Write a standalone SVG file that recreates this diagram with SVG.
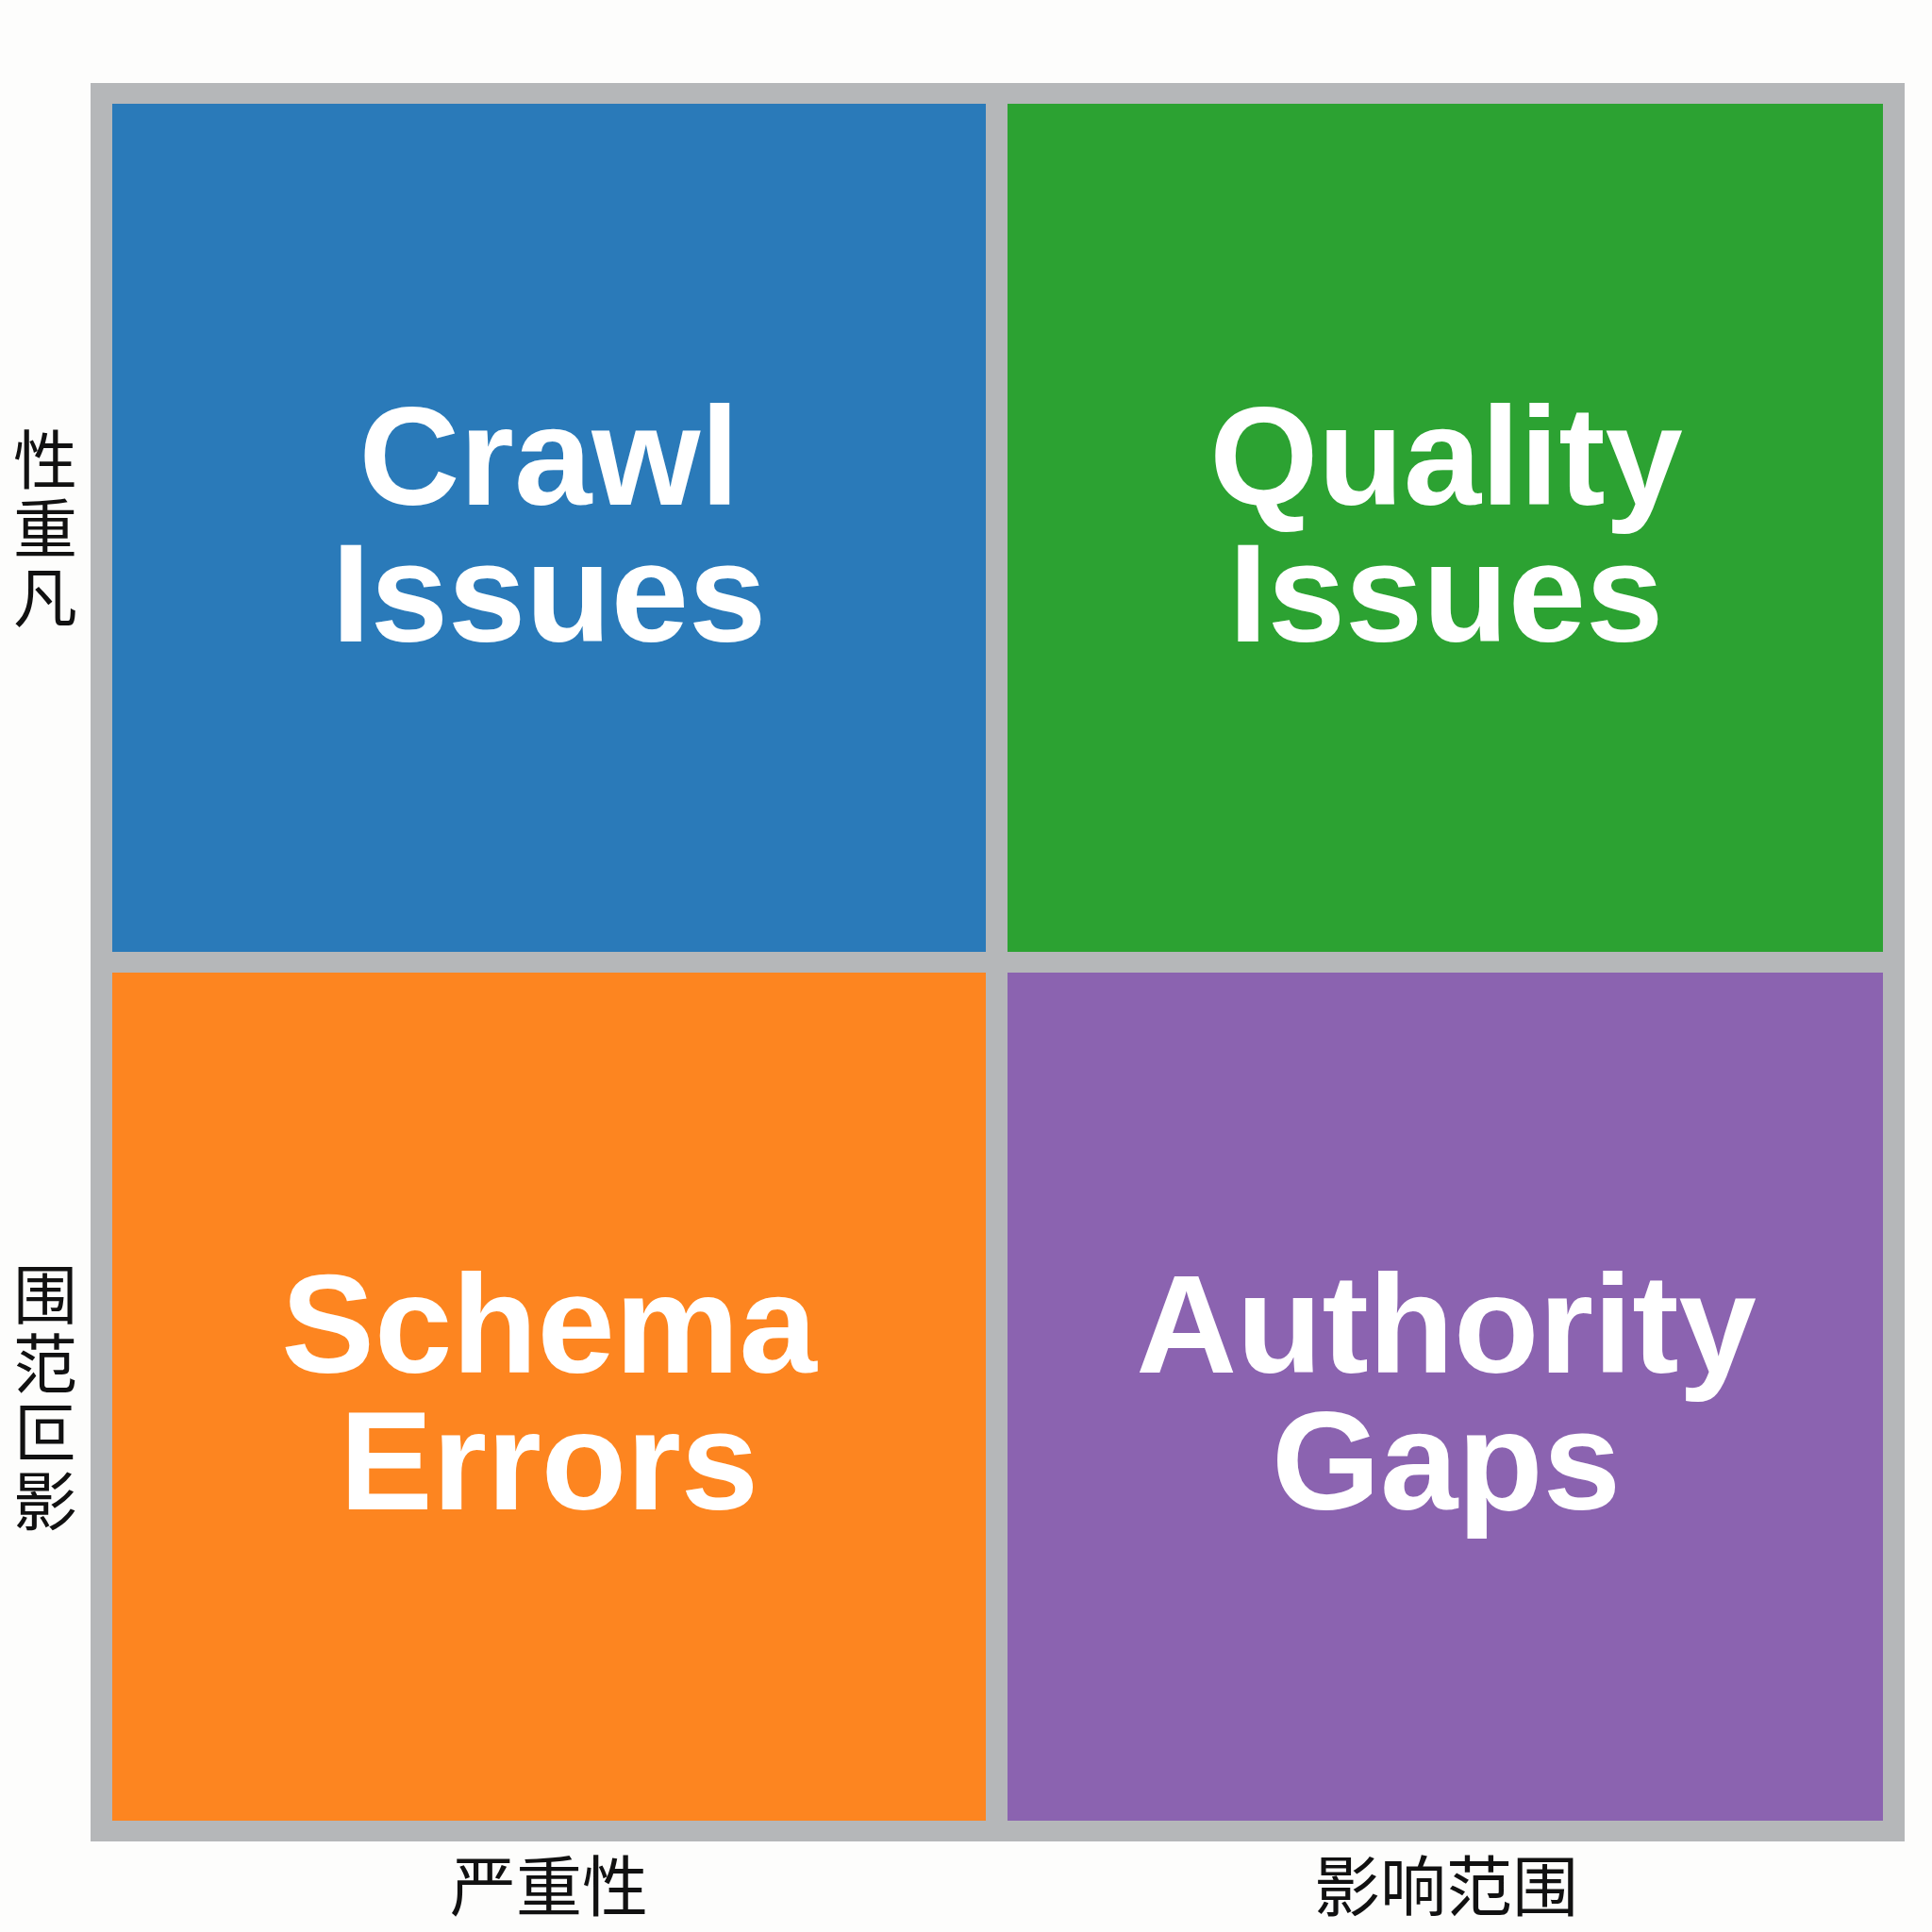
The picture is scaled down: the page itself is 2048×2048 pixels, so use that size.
<svg xmlns="http://www.w3.org/2000/svg" width="2048" height="2048" viewBox="0 0 2048 2048">
  <style>
    .cell-label { font-family: "Liberation Sans", Arial, sans-serif; font-weight: bold; font-size: 148px; fill: #ffffff; text-anchor: middle; }
    .axis { font-family: "Noto Sans CJK SC", "Noto Sans", sans-serif; font-size: 70px; fill: #111111; text-anchor: middle; }
    .axis-v { font-family: "Noto Sans CJK SC", "Noto Sans", sans-serif; font-size: 68px; fill: #111111; writing-mode: vertical-rl; letter-spacing: 5px; }
  </style>
  <rect x="0" y="0" width="2048" height="2048" fill="#fdfdfc"/>
  <g id="frame">
    <rect x="96" y="88" width="1923" height="1864" fill="#b5b7b9"/>
  </g>
  <g id="crawl-issues">
    <rect x="119" y="110" width="926" height="899" fill="#2a7ab9"/>
    <text class="cell-label"><tspan x="582" y="535">Crawl</tspan><tspan x="582" y="680">Issues</tspan></text>
  </g>
  <g id="quality-issues">
    <rect x="1068" y="110" width="928" height="899" fill="#2ca232"/>
    <text class="cell-label"><tspan x="1533" y="535">Quality</tspan><tspan x="1533" y="680">Issues</tspan></text>
  </g>
  <g id="schema-errors">
    <rect x="119" y="1031" width="926" height="899" fill="#fd8520"/>
    <text class="cell-label"><tspan x="582" y="1455">Schema</tspan><tspan x="582" y="1600">Errors</tspan></text>
  </g>
  <g id="authority-gaps">
    <rect x="1068" y="1031" width="928" height="899" fill="#8b63b0"/>
    <text class="cell-label"><tspan x="1533" y="1455">Authority</tspan><tspan x="1533" y="1600">Gaps</tspan></text>
  </g>
  <g id="axis-labels">
    <text class="axis" x="582" y="2026">严重性</text>
    <text class="axis" x="1533" y="2026">影响范围</text>
    <text class="axis-v" x="48" y="453">性重凡</text>
    <text class="axis-v" x="48" y="1338">围范叵影</text>
  </g>
  <g id="connectors"></g>
</svg>
